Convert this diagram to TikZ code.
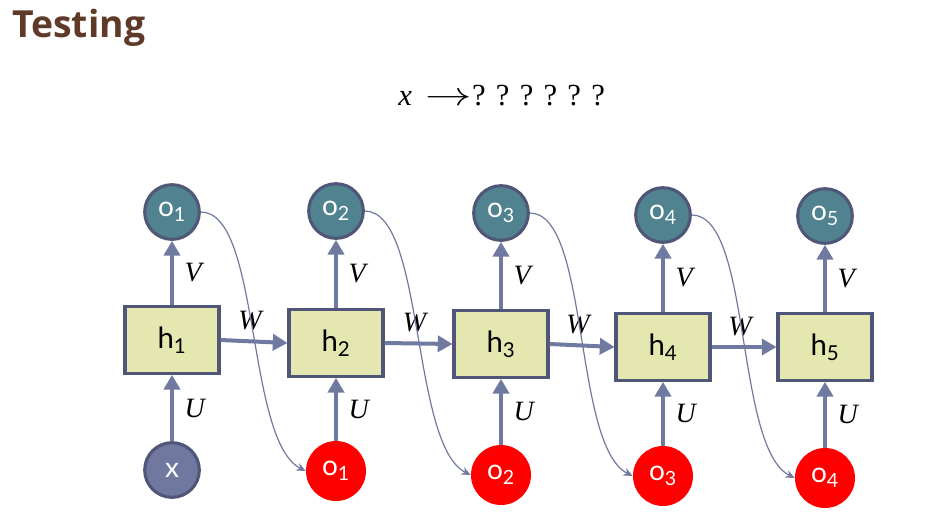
\documentclass[tikz,border=0pt]{standalone}
\usepackage{fontspec}
\usepackage{graphicx}
\usepackage{tikz}
\usetikzlibrary{arrows.meta,positioning}
\newfontfamily\titlefont{Open Sans}
\newfontfamily\labelfont{Lato}
\newfontfamily\mathlikefont{Liberation Serif}
\definecolor{titlebrown}{RGB}{96,58,40}
\definecolor{edgeblue}{RGB}{112,121,160}
\definecolor{rimblue}{RGB}{79,86,120}
\definecolor{outteal}{RGB}{80,130,143}
\definecolor{hyellow}{RGB}{228,232,176}
\definecolor{inblue}{RGB}{112,120,160}
\tikzstyle{hbox}=[rectangle, draw=rimblue, line width=2.3pt, fill=hyellow, minimum width=70.5pt, minimum height=50pt, inner sep=0pt, font=\labelfont\fontsize{22}{26}\selectfont]
\tikzstyle{outnode}=[circle, draw=rimblue, line width=2.3pt, fill=outteal, minimum size=41pt, inner sep=0pt, text=white, font=\labelfont\fontsize{21}{24}\selectfont]
\tikzstyle{innode}=[circle, draw=rimblue, line width=2.3pt, fill=inblue, minimum size=41pt, inner sep=0pt, text=white, font=\labelfont\fontsize{21}{24}\selectfont]
\tikzstyle{prednode}=[circle, fill=red, minimum size=45pt, inner sep=0pt, text=white, font=\labelfont\fontsize{21}{24}\selectfont]
\tikzstyle{arrow1}=[draw=edgeblue, line width=3pt, -{Triangle[length=11pt,width=12pt]}]
\tikzstyle{arrow2}=[draw=edgeblue, line width=0.9pt, -{Stealth[length=7pt,width=6pt]}]
\tikzstyle{wlabel}=[font=\mathlikefont\itshape\fontsize{21}{24}\selectfont, inner sep=1pt]
\begin{document}
\begin{tikzpicture}[x=0.75pt,y=-0.75pt]
\useasboundingbox (0,0) rectangle (926,522);
%Title
\node[anchor=base west, inner sep=0pt, text=titlebrown, font=\titlefont\bfseries\fontsize{28}{32}\selectfont] (title) at (12,37){Testing};
\node[anchor=base west, inner sep=0pt, font=\mathlikefont\fontsize{23}{26}\selectfont] (query) at (398,105){\textit{x}\hspace{0.45em}\scalebox{1.4}[1]{$\rightarrow$}? ? ? ? ? ?};

%Top row
\node[outnode] (o1) at (172,212){o\textsubscript{1}};
\node[outnode] (o2) at (336,211){o\textsubscript{2}};
\node[outnode] (o3) at (501,213){o\textsubscript{3}};
\node[outnode] (o4) at (663,215){o\textsubscript{4}};
\node[outnode] (o5) at (825,216){o\textsubscript{5}};
%Hidden row
\node[hbox] (h1) at (172,340){h\textsubscript{1}};
\node[hbox] (h2) at (336,343){h\textsubscript{2}};
\node[hbox] (h3) at (501,344){h\textsubscript{3}};
\node[hbox] (h4) at (663,347){h\textsubscript{4}};
\node[hbox] (h5) at (825,347){h\textsubscript{5}};
%Bottom row
\node[innode] (x) at (172,470){x};
\node[prednode] (p1) at (336,471){o\textsubscript{1}};
\node[prednode] (p2) at (501,475){o\textsubscript{2}};
\node[prednode] (p3) at (663,476){o\textsubscript{3}};
\node[prednode] (p4) at (825,478){o\textsubscript{4}};

%V arrows
\draw[arrow1] (h1.north) -- (o1.south) node[wlabel,midway,right=7pt]{V};
\draw[arrow1] (h2.north) -- (o2.south) node[wlabel,midway,right=7pt]{V};
\draw[arrow1] (h3.north) -- (o3.south) node[wlabel,midway,right=7pt]{V};
\draw[arrow1] (h4.north) -- (o4.south) node[wlabel,midway,right=7pt]{V};
\draw[arrow1] (h5.north) -- (o5.south) node[wlabel,midway,right=7pt]{V};
%W arrows
\draw[arrow1] (h1.east) -- (h2.west) node[wlabel,midway,above=6pt,xshift=-3pt]{W};
\draw[arrow1] (h2.east) -- (h3.west) node[wlabel,midway,above=6pt,xshift=-3pt]{W};
\draw[arrow1] (h3.east) -- (h4.west) node[wlabel,midway,above=6pt,xshift=-3pt]{W};
\draw[arrow1] (h4.east) -- (h5.west) node[wlabel,midway,above=6pt,xshift=-3pt]{W};
%U arrows
\draw[arrow1] (x.north) -- (h1.south) node[wlabel,midway,right=7pt]{U};
\draw[arrow1] (p1.north) -- (h2.south) node[wlabel,midway,right=7pt]{U};
\draw[arrow1] (p2.north) -- (h3.south) node[wlabel,midway,right=7pt]{U};
\draw[arrow1] (p3.north) -- (h4.south) node[wlabel,midway,right=7pt]{U};
\draw[arrow1] (p4.north) -- (h5.south) node[wlabel,midway,right=7pt]{U};

%Feedback curves
\draw[arrow2] (o1.east) .. controls +(60,0) and +(-60,-30) .. (p1.west);
\draw[arrow2] (o2.east) .. controls +(60,0) and +(-60,-30) .. (p2.west);
\draw[arrow2] (o3.east) .. controls +(60,0) and +(-60,-30) .. (p3.west);
\draw[arrow2] (o4.east) .. controls +(60,0) and +(-60,-30) .. (p4.west);
\end{tikzpicture}
\end{document}
